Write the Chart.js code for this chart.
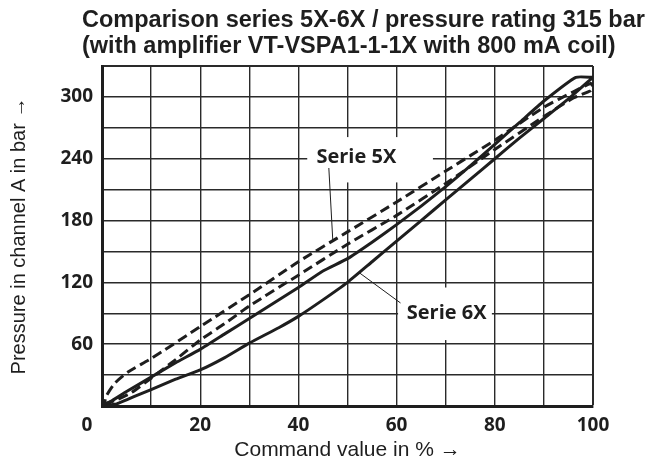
<!DOCTYPE html>
<html>
<head>
<meta charset="utf-8">
<script src="https://cdn.jsdelivr.net/npm/chart.js@4/dist/chart.umd.min.js"></script>
<style>
html,body{margin:0;padding:0;background:#fff;}
#wrap{width:665px;height:466px;}
</style>
</head>
<body>
<div id="wrap"><canvas id="c" width="665" height="466"></canvas></div>
<script>
// ---- data ----
const titleLines = ["Comparison series 5X-6X / pressure rating 315 bar", "(with amplifier VT-VSPA1-1-1X with 800 mA coil)"];
const xTitle = "Command value in % \u2192";
const yTitle = "Pressure in channel A in bar \u2192";
const xTickLabels = [20, 40, 60, 80, 100];
const yTickLabels = [60, 120, 180, 240, 300];

// Serie 5X (dashed) hysteresis loop: rising branch then falling branch
const s5xRiseX = [0.5, 3, 6, 10, 15, 20, 25, 30, 40, 50, 60, 70, 80, 90, 96, 99.5, 100];
const s5xRiseY = [2, 6, 13, 27, 45, 64, 80, 97, 127, 157, 185, 216, 249, 281, 299, 306, 310];
const s5xFallX = [99.5, 96, 90, 80, 75, 70, 60, 50, 40, 30, 20, 10, 5.3, 2.6, 0.8, 0.5];
const s5xFallY = [313, 305, 290, 258, 243, 228, 198, 169, 140, 108, 77, 46, 33, 22, 9, 2];

// Serie 6X (solid) hysteresis loop
const s6xRiseX = [0, 3, 5, 8, 10, 15, 20, 25, 30, 36, 40, 45, 50, 55, 60, 65, 70, 75, 80, 85, 90, 95, 100];
const s6xRiseY = [0, 2, 6, 12, 16, 26, 35, 47, 61, 76, 87, 103, 120, 140, 160, 180, 200, 220, 240, 260, 279, 298, 319];
const s6xFallX = [100, 96.5, 90, 85, 80, 75, 70, 65, 60, 55, 50, 45, 40, 35, 30, 25, 20, 15, 10, 5, 2, 0];
const s6xFallY = [319, 319, 296, 275, 254, 233, 213, 194, 176, 159, 143, 131, 115, 100, 85, 70, 55, 42, 28, 14, 5, 0];

// annotation labels (data units)
const label5X = {text: "Serie 5X", x: 51.8, y: 241, box: [41.8, 261, 67.4, 217], lead: [46.2, 231, 47, 161]};
const label6X = {text: "Serie 6X", x: 70.2, y: 90, box: [60.3, 115, 79.4, 64], lead: [52.5, 129, 60.8, 100]};

function pts(xs, ys){ return xs.map((x,i)=>({x:x, y:ys[i]})); }

const ink = '#1e1e1e';
const tickFont = {family: "'Open Sans', sans-serif", size: 19, weight: 'bold'};

const annot = {
  id: 'annot',
  beforeDatasetsDraw(chart){
    const ctx = chart.ctx, xs = chart.scales.x, ys = chart.scales.y;
    [label5X, label6X].forEach(L => {
      const x0 = xs.getPixelForValue(L.box[0]), y0 = ys.getPixelForValue(L.box[1]);
      const x1 = xs.getPixelForValue(L.box[2]), y1 = ys.getPixelForValue(L.box[3]);
      ctx.save();
      ctx.fillStyle = '#fff';
      ctx.fillRect(x0, y0, x1 - x0, y1 - y0);
      ctx.strokeStyle = ink; ctx.lineWidth = 1;
      ctx.beginPath();
      ctx.moveTo(xs.getPixelForValue(L.lead[0]), ys.getPixelForValue(L.lead[1]));
      ctx.lineTo(xs.getPixelForValue(L.lead[2]), ys.getPixelForValue(L.lead[3]));
      ctx.stroke();
      ctx.fillStyle = ink;
      ctx.font = "bold 20px 'Open Sans', sans-serif";
      ctx.textAlign = 'center'; ctx.textBaseline = 'middle';
      ctx.fillText(L.text, xs.getPixelForValue(L.x), ys.getPixelForValue(L.y));
      ctx.restore();
    });
  },
  afterDraw(chart){
    const ctx = chart.ctx, a = chart.chartArea;
    ctx.save();
    ctx.fillStyle = ink;
    ctx.font = "bold 23.5px 'Liberation Sans', Arial, sans-serif";
    ctx.textAlign = 'left'; ctx.textBaseline = 'alphabetic';
    ctx.fillText(titleLines[0], 82, 27);
    ctx.fillText(titleLines[1], 82, 53);
    ctx.font = "bold 19px 'Open Sans', sans-serif";
    ctx.textAlign = 'center'; ctx.textBaseline = 'middle';
    ctx.fillText('0', a.left - 15, a.bottom + 20);
    ctx.restore();
  }
};

new Chart(document.getElementById('c'), {
  type: 'scatter',
  data: {
    datasets: [
      {label: 'Serie 5X', data: pts(s5xRiseX.concat(s5xFallX), s5xRiseY.concat(s5xFallY)),
       showLine: true, borderColor: ink, borderWidth: 3, borderDash: [10, 5], pointRadius: 0, tension: 0.2, fill: false},
      {label: 'Serie 6X', data: pts(s6xRiseX.concat(s6xFallX), s6xRiseY.concat(s6xFallY)),
       showLine: true, borderColor: ink, borderWidth: 3, pointRadius: 0, tension: 0.15, fill: false}
    ]
  },
  options: {
    responsive: false,
    animation: false,
    layout: {padding: {left: 4, right: 72, top: 66, bottom: 0}},
    plugins: {legend: {display: false}, title: {display: false}, tooltip: {enabled: false}},
    scales: {
      x: {
        type: 'linear', min: 0, max: 100,
        ticks: {stepSize: 10, color: ink, font: tickFont, padding: 8, maxRotation: 0, autoSkip: false,
                callback: v => xTickLabels.includes(v) ? String(v) : ''},
        grid: {color: '#2a2a2a', lineWidth: c => (c.tick && c.tick.value === 100) ? 2 : 1.4, drawTicks: false},
        border: {color: ink, width: 3},
        title: {display: true, text: xTitle, color: ink, font: {family: "'Liberation Sans', Arial, sans-serif", size: 21}, padding: {top: 0, bottom: 3}},
        afterFit: s => { s.height = 60; }
      },
      y: {
        type: 'linear', min: 0, max: 330,
        ticks: {stepSize: 30, color: ink, font: tickFont, padding: 9, autoSkip: false,
                callback: v => yTickLabels.includes(v) ? String(v) : ''},
        grid: {color: '#2a2a2a', lineWidth: c => (c.tick && c.tick.value === 330) ? 2 : 1.4, drawTicks: false},
        border: {color: ink, width: 3},
        title: {display: true, text: yTitle, color: ink, font: {family: "'Liberation Sans', Arial, sans-serif", size: 20}, padding: {top: 3, bottom: 4}},
        afterFit: s => { s.width = 98; }
      }
    }
  },
  plugins: [annot]
});
</script>
</body>
</html>
